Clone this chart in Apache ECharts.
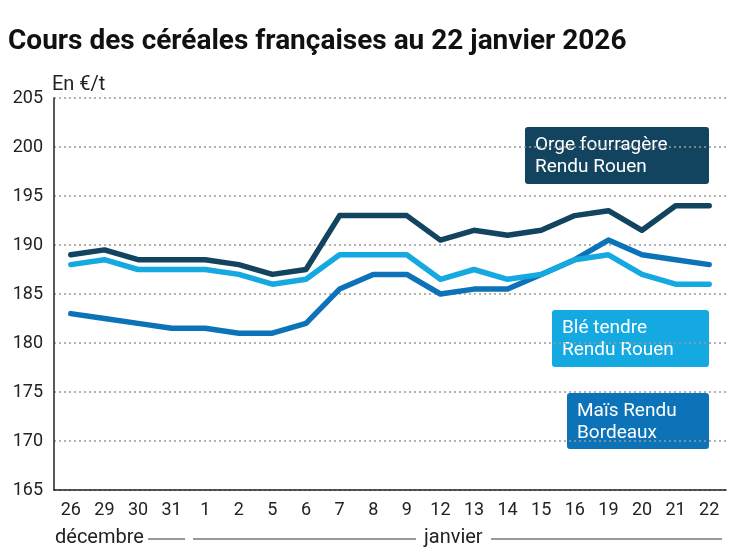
<!DOCTYPE html>
<html>
<head>
<meta charset="utf-8">
<script src="https://cdn.jsdelivr.net/npm/echarts@6/dist/echarts.min.js"></script>
<style>
html,body{margin:0;padding:0;background:#fff;}
#chart{width:747px;height:558px;}
</style>
</head>
<body>
<div id="chart"></div>
<script>
const categories = ['26','29','30','31','1','2','5','6','7','8','9','12','13','14','15','16','19','20','21','22'];
const orge = [189,189.5,188.5,188.5,188.5,188,187,187.5,193,193,193,190.5,191.5,191,191.5,193,193.5,191.5,194,194];
const ble  = [188,188.5,187.5,187.5,187.5,187,186,186.5,189,189,189,186.5,187.5,186.5,187,188.5,189,187,186,186];
const mais = [183,182.5,182,181.5,181.5,181,181,182,185.5,187,187,185,185.5,185.5,187,188.5,190.5,189,188.5,188];
const yTicks = {min:165, max:205, interval:5};
const seriesNames = ['Orge fourragère\nRendu Rouen','Blé tendre\nRendu Rouen','Maïs Rendu\nBordeaux'];
const colors = {orge:'#13445f', ble:'#15a9e1', mais:'#0c73b8'};
const title = 'Cours des céréales françaises au 22 janvier 2026';
const unit = 'En €/t';
const months = ['décembre','janvier'];

const chart = echarts.init(document.getElementById('chart'));
const font = 'Roboto, "Noto Sans", sans-serif';
const txt = '#222';

function box(x, y, w, h, color, text){
  return {
    type:'group', left:x, top:y,
    children:[
      {type:'rect', shape:{x:0,y:0,width:w,height:h,r:3}, style:{fill:color}},
      {type:'text', x:10, y:h/2+1, style:{text:text, fill:'#fff', font:'19px '+font, lineHeight:22, verticalAlign:'middle', align:'left'}}
    ]
  };
}

chart.setOption({
  animation:false,
  backgroundColor:'#fff',
  title:{text:title, left:8, top:28, padding:0, textStyle:{fontFamily:font, fontSize:28, fontWeight:'bold', color:'#111'}},
  grid:{left:54, right:21, top:98, bottom:68},
  xAxis:{
    type:'category', data:categories, boundaryGap:true,
    axisLine:{show:true, lineStyle:{color:'#222', width:1.5}},
    axisTick:{show:false},
    axisLabel:{fontFamily:font, fontSize:18, color:txt, margin:11, interval:0}
  },
  yAxis:{
    type:'value', min:yTicks.min, max:yTicks.max, interval:yTicks.interval,
    name:unit, nameLocation:'end', nameGap:3,
    nameTextStyle:{fontFamily:font, fontSize:20, color:txt, align:'left', padding:[0,0,0,-2]},
    axisLine:{show:true, lineStyle:{color:'#222', width:1.5}},
    axisTick:{show:false},
    axisLabel:{fontFamily:font, fontSize:18, color:txt, margin:11},
    splitLine:{show:true, lineStyle:{color:'#999', width:1.5, type:[2,3]}}
  },
  series:[
    {name:seriesNames[2], type:'line', data:mais, symbol:'none', lineStyle:{color:colors.mais, width:5.5, cap:'round', join:'round'}, itemStyle:{color:colors.mais}},
    {name:seriesNames[1], type:'line', data:ble, symbol:'none', lineStyle:{color:colors.ble, width:5.5, cap:'round', join:'round'}, itemStyle:{color:colors.ble}},
    {name:seriesNames[0], type:'line', data:orge, symbol:'none', lineStyle:{color:colors.orge, width:5.5, cap:'round', join:'round'}, itemStyle:{color:colors.orge}}
  ],
  graphic:[
    box(525,127,184,57,colors.orge,seriesNames[0]),
    box(552,310,157,57,colors.ble,seriesNames[1]),
    box(567,393,142,56,colors.mais,seriesNames[2]),
    {type:'text', left:55, top:528, style:{text:months[0], font:'20px '+font, fill:txt}},
    {type:'line', shape:{x1:148,y1:539,x2:185,y2:539}, style:{stroke:'#333', lineWidth:1}},
    {type:'line', shape:{x1:193,y1:539,x2:416,y2:539}, style:{stroke:'#333', lineWidth:1}},
    {type:'text', left:424, top:528, style:{text:months[1], font:'20px '+font, fill:txt}},
    {type:'line', shape:{x1:491,y1:539,x2:722,y2:539}, style:{stroke:'#333', lineWidth:1}}
  ]
});
</script>
</body>
</html>
